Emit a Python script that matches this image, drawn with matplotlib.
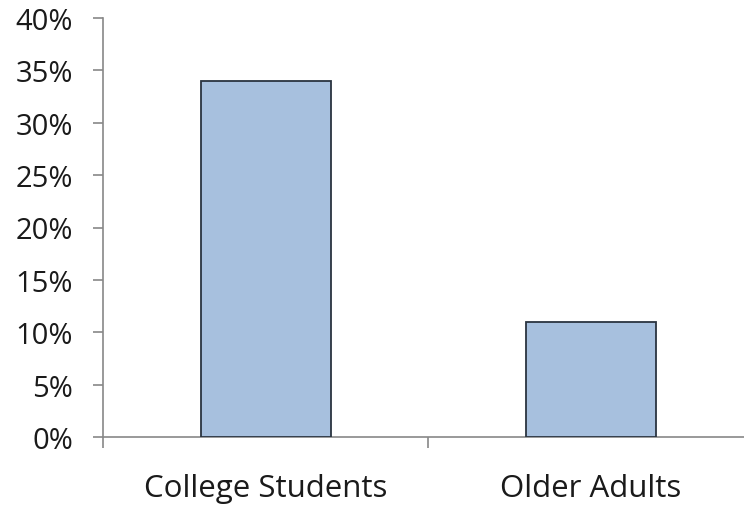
import numpy as np
import matplotlib.pyplot as plt
from matplotlib.ticker import FuncFormatter

categories = ["College Students", "Older Adults"]
values = [34, 11]
y_ticks = [0, 5, 10, 15, 20, 25, 30, 35, 40]

plt.rcParams['font.family'] = ['Open Sans', 'DejaVu Sans']

fig = plt.figure(figsize=(7.44, 5.10), dpi=100)
ax = fig.add_axes([103/744, 1 - 438/510, 650/744, 419/510])

x = np.arange(len(categories))
ax.bar(x, values, width=0.4, color='#a7c0de', edgecolor='#2a3440', linewidth=1.3, zorder=3)

ax.set_xlim(-0.5, 1.5)
ax.set_ylim(0, 40)
ax.set_yticks(y_ticks)
ax.yaxis.set_major_formatter(FuncFormatter(lambda v, p: f"{int(v)}%"))

# category boundaries as major ticks, labels on minor ticks
ax.set_xticks([-0.5, 0.5, 1.5])
ax.set_xticklabels([])
ax.set_xticks(x, minor=True)
ax.set_xticklabels(categories, minor=True)

ax.tick_params(axis='x', which='major', length=8, color='#888888', width=1.2, direction='out')
ax.tick_params(axis='x', which='minor', length=0, pad=26, labelsize=22.5, labelcolor='#1a1a1a')
ax.tick_params(axis='y', length=7, color='#888888', width=1.2, direction='out', pad=14.5,
               labelsize=21, labelcolor='#1a1a1a')

for s in ['top', 'right']:
    ax.spines[s].set_visible(False)
for s in ['left', 'bottom']:
    ax.spines[s].set_color('#888888')
    ax.spines[s].set_linewidth(1.2)

fig.savefig('out.png', dpi=100)
